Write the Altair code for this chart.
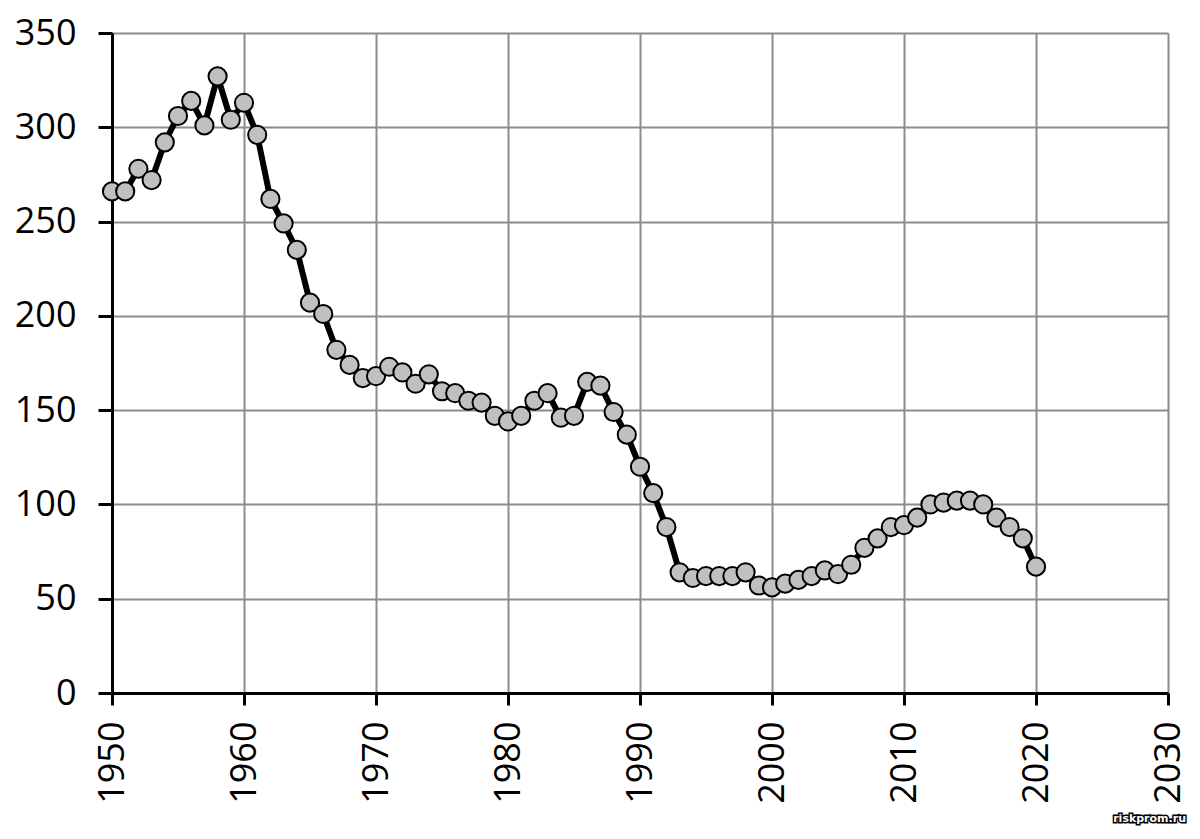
import altair as alt
import pandas as pd

years = list(range(1950, 2021))
values = [266, 266, 278, 272, 292, 306, 314, 301, 327, 304,
          313, 296, 262, 249, 235, 207, 201, 182, 174, 167,
          168, 173, 170, 164, 169, 160, 159, 155, 154, 147,
          144, 147, 155, 159, 146, 147, 165, 163, 149, 137,
          120, 106, 88, 64, 61, 62, 62, 62, 64, 57,
          56, 58, 60, 62, 65, 63, 68, 77, 82, 88,
          89, 93, 100, 101, 102, 102, 100, 93, 88, 82,
          67]

x_ticks = list(range(1950, 2031, 10))
y_ticks = list(range(0, 351, 50))

df = pd.DataFrame({"year": years, "value": values})

FONT = "Open Sans"

x = alt.X("year:Q", scale=alt.Scale(domain=[1950, 2030], nice=False, zero=False),
          axis=alt.Axis(values=x_ticks, format="d", title=None, labelAngle=270,
                        labelFontSize=36, labelFont=FONT, labelColor="black",
                        labelPadding=16, tickSize=12, tickColor="black", tickWidth=3,
                        domainColor="black", domainWidth=3,
                        grid=True, gridColor="#8c8c8c", gridWidth=2))
y = alt.Y("value:Q", scale=alt.Scale(domain=[0, 350], nice=False),
          axis=alt.Axis(values=y_ticks, title=None, labelFontSize=36, labelFont=FONT,
                        labelColor="black", labelPadding=22, tickSize=14,
                        tickColor="black", tickWidth=3, domainColor="black",
                        domainWidth=3, grid=True, gridColor="#8c8c8c", gridWidth=2))

base = alt.Chart(df)
line = base.mark_line(color="black", strokeWidth=6).encode(x=x, y=y)
pts = base.mark_point(filled=True, fill="#c0c0c0", stroke="black", strokeWidth=2,
                      size=330, opacity=1, shape="circle").encode(x="year:Q", y="value:Q")

wm_df = pd.DataFrame({"t": ["riskprom.ru"]})
wm = alt.Chart(wm_df).mark_text(
    font="DejaVu Sans", fontSize=11, fontWeight="bold", fill="white", stroke="black",
    strokeWidth=3, align="right", baseline="middle"
).encode(text="t:N", x=alt.value(1074), y=alt.value(786))
wm2 = alt.Chart(wm_df).mark_text(
    font="DejaVu Sans", fontSize=11, fontWeight="bold", fill="white",
    align="right", baseline="middle"
).encode(text="t:N", x=alt.value(1074), y=alt.value(786))

chart = alt.layer(line, pts, wm, wm2).properties(
    width=1056, height=660, autosize="none",
    padding={"left": 104, "top": 25, "right": 24, "bottom": 138},
).configure_view(stroke=None).configure(background="white")

chart.save("out.html", embed_options={"renderer": "svg", "actions": False})
